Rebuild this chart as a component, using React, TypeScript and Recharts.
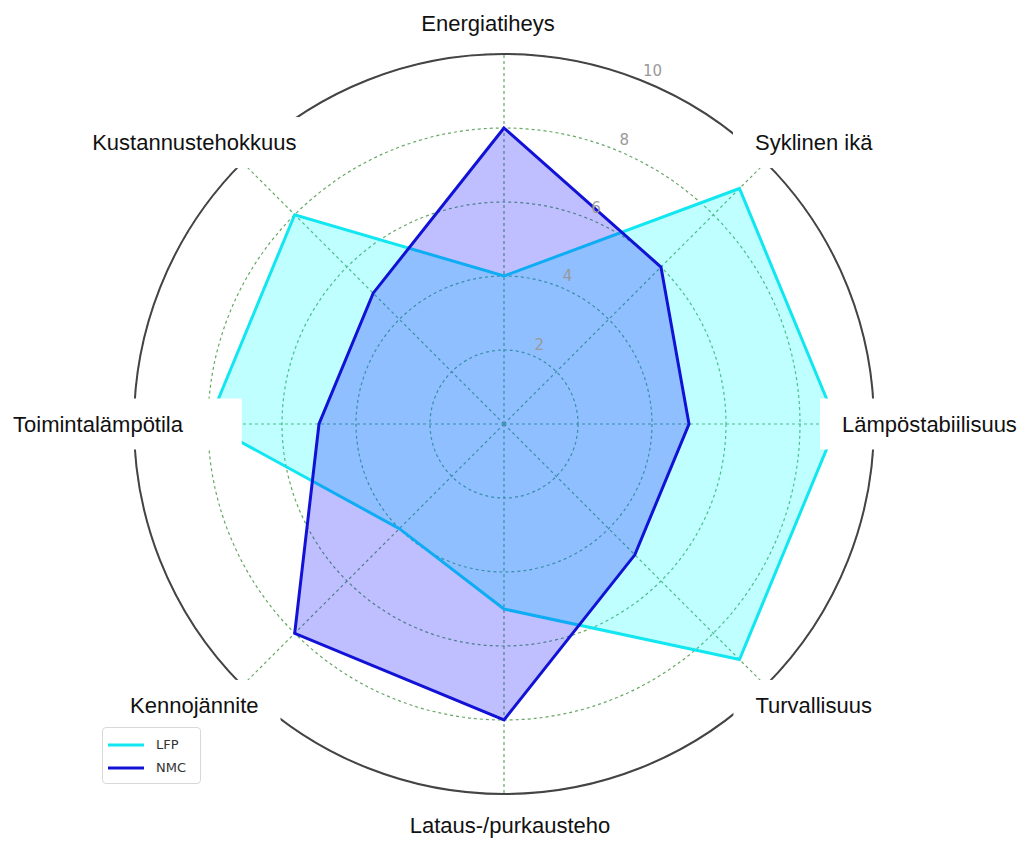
import { useLayoutEffect, useRef, useState } from 'react';
import { RadarChart, Radar, PolarGrid, PolarAngleAxis, PolarRadiusAxis, Legend } from 'recharts';

// akselit myötäpäivään ylhäältä
const categories = [
  'Energiatiheys',
  'Syklinen ikä',
  'Lämpöstabiilisuus',
  'Turvallisuus',
  'Lataus-/purkausteho',
  'Kennojännite',
  'Toimintalämpötila',
  'Kustannustehokkuus',
];
const lfpValues = [4, 9, 9, 9, 5, 4, 8, 8];
const nmcValues = [8, 6, 5, 5, 8, 8, 5, 5];
const radiusTicks = [2, 4, 6, 8, 10];

const data = categories.map((name, i) => ({ name, LFP: lfpValues[i], NMC: nmcValues[i] }));

const W = 1010;
const H = 836;
const CX = 496;
const CY = 416;
const R = 370;

const LFP_COLOR = '#12e6f0';
const NMC_COLOR = '#1212d6';
const GRID_COLOR = '#66a866';

function AngleLabel(props: any) {
  const { payload } = props;
  const ref = useRef<SVGTextElement>(null);
  const [box, setBox] = useState<{ x: number; y: number; w: number; h: number } | null>(null);

  useLayoutEffect(() => {
    if (ref.current) {
      const b = ref.current.getBBox();
      setBox({ x: b.x, y: b.y, w: b.width, h: b.height });
    }
  }, [payload.value]);

  const rad = (payload.coordinate * Math.PI) / 180;
  const c = Math.cos(rad);
  const s = Math.sin(rad);
  let x = CX;
  let y = CY;
  let anchor: 'start' | 'middle' | 'end' = 'middle';
  let padL = 22;
  let padR = 22;
  if (Math.abs(c) < 0.01) {
    x = CX + (s > 0 ? -16 : 6);
    y = CY - Math.sign(s) * 401;
  } else if (Math.abs(s) < 0.01) {
    anchor = c > 0 ? 'start' : 'end';
    x = CX + (c > 0 ? 338 : -321);
    if (c < 0) padR = 58;
  } else {
    x = CX + c * 438;
    y = CY - s * 398;
  }

  return (
    <g>
      {box && (
        <rect
          x={box.x - padL}
          y={box.y - 13}
          width={box.w + padL + padR}
          height={box.h + 26}
          fill="#ffffff"
        />
      )}
      <text
        ref={ref}
        x={x}
        y={y}
        textAnchor={anchor}
        dominantBaseline="central"
        fontFamily="'Liberation Sans', Arial, sans-serif"
        fontSize={22}
        fill="#111"
      >
        {payload.value}
      </text>
    </g>
  );
}

function RadiusLabel(props: any) {
  const { x, y, payload } = props;
  return (
    <text
      x={x + 7}
      y={y - 11}
      textAnchor="middle"
      dominantBaseline="central"
      fontFamily="'DejaVu Sans', sans-serif"
      fontSize={15}
      fill="#999"
    >
      {payload.value}
    </text>
  );
}

function LegendBox(props: any) {
  const items = props.payload || [];
  return (
    <div
      style={{
        border: '1px solid #d8d8d8',
        borderRadius: 4,
        background: '#fff',
        padding: '5px 6px 4px 5px',
        width: 86,
        fontFamily: "'DejaVu Sans', sans-serif",
        fontSize: 13,
        color: '#333',
      }}
    >
      {items.map((it: any) => (
        <div key={it.value} style={{ display: 'flex', alignItems: 'center', height: 23 }}>
          <svg width={36} height={10} style={{ marginRight: 12 }}>
            <line x1={0} y1={5} x2={36} y2={5} stroke={it.color} strokeWidth={3} />
          </svg>
          <span>{it.value}</span>
        </div>
      ))}
    </div>
  );
}

export default function App() {
  return (
    <div style={{ width: W, height: H, background: '#fff' }}>
      <RadarChart
        width={W}
        height={H}
        data={data}
        cx={CX}
        cy={CY}
        outerRadius={R}
        margin={{ top: 0, right: 0, bottom: 0, left: 0 }}
      >
        <PolarGrid
          gridType="circle"
          stroke={GRID_COLOR}
          strokeDasharray="3 3"
          strokeWidth={1.2}
        />
        <PolarRadiusAxis
          angle={67.5}
          domain={[0, 10]}
          ticks={radiusTicks as any}
          tickCount={6}
          axisLine={false}
          tickLine={false}
          tick={<RadiusLabel />}
        />
        <Radar
          name="LFP"
          dataKey="LFP"
          stroke={LFP_COLOR}
          strokeWidth={3}
          fill="#00ffff"
          fillOpacity={0.25}
          dot={false}
          isAnimationActive={false}
        />
        <Radar
          name="NMC"
          dataKey="NMC"
          stroke={NMC_COLOR}
          strokeWidth={3}
          fill="#0000ff"
          fillOpacity={0.25}
          dot={false}
          isAnimationActive={false}
        />
        <PolarAngleAxis
          dataKey="name"
          axisLineType="circle"
          axisLine={{ stroke: '#444', strokeWidth: 2 }}
          tickLine={false}
          tick={<AngleLabel />}
        />
        <Legend
          content={<LegendBox />}
          wrapperStyle={{ position: 'absolute', left: 94, top: 719, width: 'auto', bottom: 'auto' }}
        />
      </RadarChart>
    </div>
  );
}
